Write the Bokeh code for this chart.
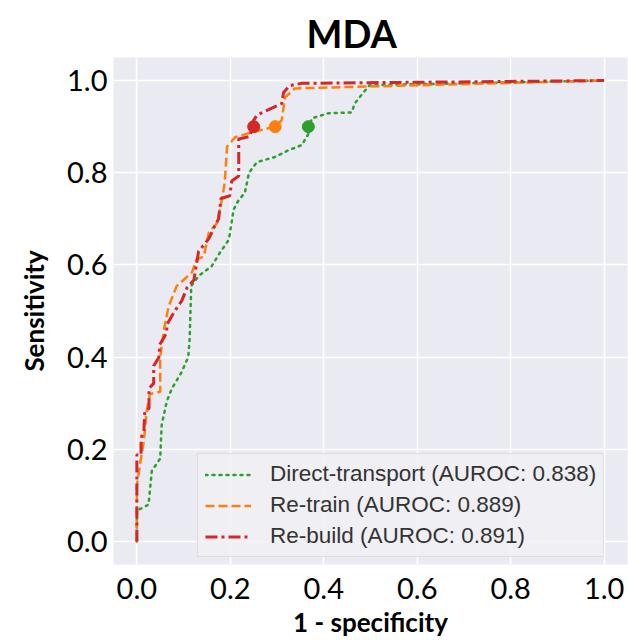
from bokeh.plotting import figure
from bokeh.models import Range1d, Title, FixedTicker, Legend, LegendItem, PrintfTickFormatter
from bokeh.embed import file_html
from bokeh.resources import INLINE

# ROC curves
direct_fpr = [0, 0, 0.006, 0.025, 0.032, 0.05, 0.053, 0.064, 0.075, 0.096, 0.11, 0.113, 0.116, 0.116,
              0.132, 0.16, 0.178, 0.197, 0.207, 0.218, 0.231, 0.24, 0.257, 0.295, 0.325, 0.353, 0.368,
              0.374, 0.41, 0.46, 0.466, 0.488, 0.498, 1.0]
direct_tpr = [0, 0.07, 0.07, 0.08, 0.153, 0.18, 0.252, 0.304, 0.332, 0.368, 0.40, 0.44, 0.54, 0.554,
              0.576, 0.597, 0.627, 0.655, 0.72, 0.741, 0.756, 0.80, 0.823, 0.834, 0.849, 0.86, 0.886,
              0.918, 0.929, 0.931, 0.95, 0.978, 0.99, 1.0]

retrain_fpr = [0, 0, 0.008, 0.015, 0.021, 0.028, 0.05, 0.05, 0.058, 0.068, 0.085, 0.118, 0.128, 0.143,
               0.154, 0.171, 0.182, 0.188, 0.193, 0.21, 0.24, 0.296, 0.31, 0.317, 0.338, 1.0]
retrain_tpr = [0, 0.12, 0.175, 0.218, 0.283, 0.32, 0.325, 0.40, 0.46, 0.51, 0.554, 0.584, 0.612, 0.618,
               0.67, 0.69, 0.741, 0.778, 0.856, 0.877, 0.886, 0.9, 0.914, 0.963, 0.983, 1.0]

rebuild_fpr = [0, 0, 0.009, 0.009, 0.015, 0.017, 0.026, 0.026, 0.036, 0.036, 0.047, 0.049, 0.064, 0.064,
               0.081, 0.096, 0.107, 0.122, 0.132, 0.154, 0.167, 0.175, 0.18, 0.199, 0.203, 0.218, 0.218,
               0.242, 0.25, 0.257, 0.31, 0.314, 0.327, 0.353, 1.0]
rebuild_tpr = [0, 0.188, 0.188, 0.224, 0.241, 0.282, 0.289, 0.332, 0.343, 0.381, 0.399, 0.427, 0.453, 0.47,
               0.5, 0.522, 0.55, 0.567, 0.629, 0.657, 0.685, 0.7, 0.744, 0.75, 0.782, 0.793, 0.873,
               0.879, 0.914, 0.925, 0.95, 0.974, 0.989, 0.994, 1.0]

# operating points
point_fpr = [0.367, 0.296, 0.25]
point_tpr = [0.9, 0.9, 0.9]

labels = ["Direct-transport (AUROC: 0.838)", "Re-train (AUROC: 0.889)", "Re-build (AUROC: 0.891)"]
colors = ["#2ca02c", "#ff7f0e", "#d62728"]
ticks = [0.0, 0.2, 0.4, 0.6, 0.8, 1.0]

p = figure(width=628, height=640, output_backend="svg", toolbar_location=None,
           x_range=Range1d(-0.05, 1.05), y_range=Range1d(-0.05, 1.05),
           min_border_left=113, min_border_right=1, min_border_top=57, min_border_bottom=73)
p.background_fill_color = "#eaeaf2"
p.border_fill_color = "white"
p.outline_line_color = None

t = Title(text="MDA", align="left", offset=193, text_font="Lato", text_font_size="38px",
          text_font_style="bold", text_color="black", standoff=4)
p.add_layout(t, "above")

for ax in (p.xaxis[0], p.yaxis[0]):
    ax.ticker = FixedTicker(ticks=ticks)
    ax.formatter = PrintfTickFormatter(format="%.1f")
    ax.axis_line_color = None
    ax.major_tick_line_color = None
    ax.minor_tick_line_color = None
    ax.major_tick_out = 0
    ax.major_tick_in = 0
    ax.major_label_text_font = "Lato"
    ax.major_label_text_font_size = "29px"
    ax.major_label_text_color = "black"
    ax.axis_label_text_font = "Lato"
    ax.axis_label_text_font_size = "26px"
    ax.axis_label_text_font_style = "bold"
    ax.axis_label_text_color = "black"

p.xaxis.axis_label = "1 - specificity"
p.yaxis.axis_label = "Sensitivity"
p.xaxis.major_label_standoff = 13
p.yaxis.major_label_standoff = 6
p.xaxis.axis_label_standoff = 4
p.yaxis.axis_label_standoff = 14

p.grid.grid_line_color = "white"
p.grid.grid_line_width = 1.5
p.xgrid.ticker = FixedTicker(ticks=ticks)
p.ygrid.ticker = FixedTicker(ticks=ticks)

r1 = p.line(direct_fpr, direct_tpr, line_color=colors[0], line_width=2.5, line_dash="2 5", line_cap="round")
r2 = p.line(retrain_fpr, retrain_tpr, line_color=colors[1], line_width=2.5, line_dash="9 4")
r3 = p.line(rebuild_fpr, rebuild_tpr, line_color=colors[2], line_width=3, line_dash="12 4 3 4")

p.scatter(point_fpr, point_tpr, size=12, fill_color=colors, line_color=colors, marker="circle")

legend = Legend(items=[LegendItem(label=labels[0], renderers=[r1]),
                       LegendItem(label=labels[1], renderers=[r2]),
                       LegendItem(label=labels[2], renderers=[r3])],
                location=(84, 7))
legend.label_text_font = "Liberation Sans"
legend.label_text_font_size = "22.5px"
legend.label_text_color = "#333333"
legend.glyph_width = 46
legend.glyph_height = 25
legend.label_height = 25
legend.spacing = 5
legend.padding = 7
legend.margin = 0
legend.label_standoff = 19
legend.background_fill_color = "#f0f0f5"
legend.background_fill_alpha = 0.85
legend.border_line_color = "#cccccc"
legend.border_line_width = 1
p.add_layout(legend, "center")

open("out.html", "w").write(file_html(p, INLINE))
